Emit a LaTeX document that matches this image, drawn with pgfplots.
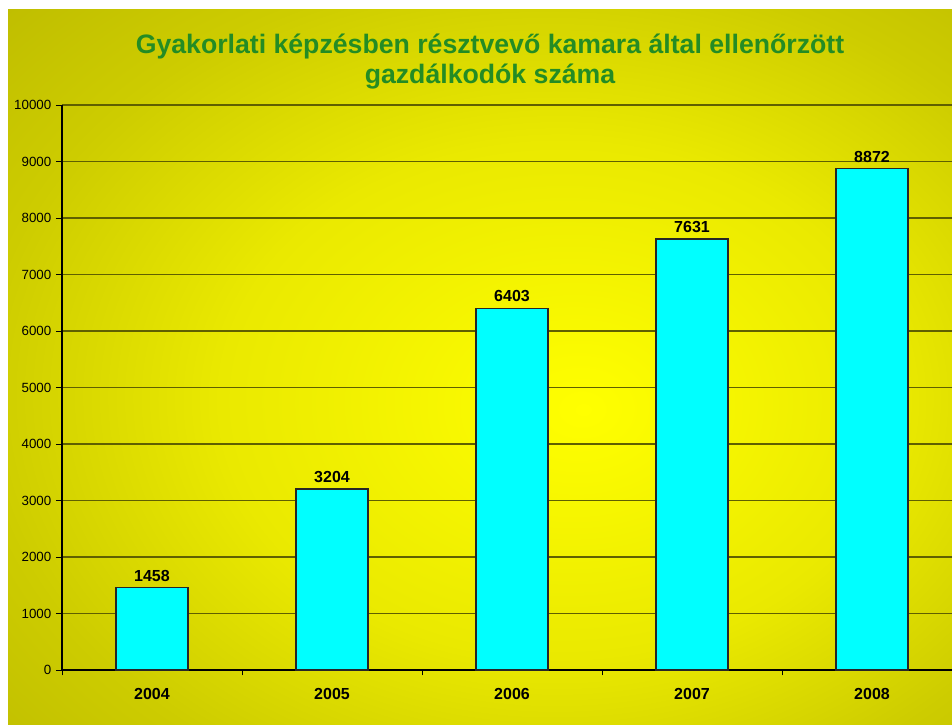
\documentclass[border=0pt]{standalone}
\usepackage{pgfplots}
\pgfplotsset{compat=1.18}
\usepackage{fontspec}
\setmainfont{Liberation Sans}
\definecolor{titlegreen}{RGB}{36,140,36}
\definecolor{edgeol}{RGB}{188,186,0}
\definecolor{centyel}{RGB}{255,255,0}
\definecolor{midyelA}{RGB}{234,233,0}
\definecolor{midyelB}{RGB}{205,204,0}
\definecolor{gridol}{RGB}{95,95,0}
\definecolor{barcyan}{RGB}{0,255,255}
\pgfdeclareradialshading{bgshade}{\pgfpoint{5.5bp}{-3bp}}{%
  color(0bp)=(centyel); color(18bp)=(midyelA); color(30bp)=(midyelB); color(41bp)=(edgeol); color(80bp)=(edgeol)}
\begin{document}
\begin{tikzpicture}[x=0.75pt,y=0.75pt]
\path[use as bounding box] (0,0) rectangle (952,724);
\fill[white] (0,0) rectangle (952,724);
\shade[shading=bgshade] (8,0) rectangle (952,714);
\node[font=\bfseries\fontsize{20}{22.5}\selectfont, text=titlegreen, align=center] at (490,662) {Gyakorlati képzésben résztvevő kamara által ellenőrzött\\gazdálkodók száma};
\begin{axis}[
  at={(46.5pt,40.5pt)}, anchor=south west,
  scale only axis, width=667.5pt, height=423.75pt,
  xmin=-0.5, xmax=4.4444, ymin=0, ymax=10000,
  axis x line*=bottom, axis y line*=left,
  axis line style={black, line width=0.8pt},
  ytick={0,1000,...,10000},
  xtick={0,1,2,3,4},
  xticklabels={2004,2005,2006,2007,2008},
  minor xtick={-0.5,0.5,1.5,2.5,3.5},
  major x tick style={draw=none},
  minor x tick style={black, line width=0.6pt},
  x tick label style={font=\bfseries\fontsize{12}{14}\selectfont, yshift=-6pt},
  y tick label style={font=\fontsize{10}{12}\selectfont},
  /pgf/number format/assume math mode=true,
  yticklabel style={/pgf/number format/1000 sep={}},
  scaled y ticks=false,
  tick align=outside,
  major tick length=4.5pt, minor tick length=4pt,
  ytick style={black, line width=0.6pt},
  ymajorgrids, grid style={gridol, line width=0.9pt},
  ybar, bar width=54pt,
  nodes near coords,
  every node near coord/.append style={font=\bfseries\fontsize{12}{14}\selectfont, black, /pgf/number format/1000 sep={}, yshift=1pt},
]
\addplot[fill=barcyan, draw=black!85, line width=1pt] coordinates {(0,1458) (1,3204) (2,6403) (3,7631) (4,8872)};
\end{axis}
\end{tikzpicture}
\end{document}
